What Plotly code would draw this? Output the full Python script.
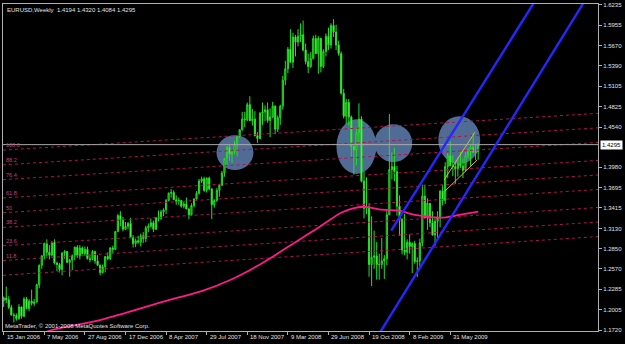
import pandas as pd
import plotly.graph_objects as go

# ---------------- data ----------------
week_start = "2006-01-15"

opens = [
    1.2130, 1.2165, 1.2140, 1.2035, 1.1930, 1.1920, 1.1880, 1.2040, 1.1910, 1.2150,
    1.2020, 1.2120, 1.2090, 1.2110, 1.2350, 1.2620, 1.2750, 1.2920, 1.2800, 1.2760,
    1.2940, 1.2650, 1.2630, 1.2560, 1.2790, 1.2810, 1.2660, 1.2690, 1.2750, 1.2870,
    1.2750, 1.2860, 1.2780, 1.2840, 1.2710, 1.2700, 1.2810, 1.2680, 1.2620, 1.2520,
    1.2600, 1.2740, 1.2710, 1.2860, 1.2840, 1.3090, 1.3310, 1.3250, 1.3120, 1.3160,
    1.3200, 1.3000, 1.2920, 1.2960, 1.2940, 1.3030, 1.2990, 1.3140, 1.3160, 1.3210,
    1.3120, 1.3280, 1.3270, 1.3360, 1.3390, 1.3520, 1.3620, 1.3630, 1.3530, 1.3510,
    1.3520, 1.3440, 1.3470, 1.3400, 1.3320, 1.3450, 1.3540, 1.3620, 1.3790, 1.3820,
    1.3660, 1.3830, 1.3680, 1.3460, 1.3520, 1.3660, 1.3730, 1.3900, 1.4100, 1.4260,
    1.4160, 1.4200, 1.4310, 1.4410, 1.4500, 1.4650, 1.4640, 1.4850, 1.4630, 1.4650,
    1.4420, 1.4380, 1.4730, 1.4750, 1.4780, 1.4630, 1.4680, 1.4830, 1.4510, 1.4670,
    1.4830, 1.5190, 1.5350, 1.5620, 1.5440, 1.5790, 1.5720, 1.5800, 1.5820, 1.5610,
    1.5450, 1.5380, 1.5490, 1.5770, 1.5560, 1.5770, 1.5380, 1.5590, 1.5800, 1.5680,
    1.5950, 1.5860, 1.5680, 1.5560, 1.5010, 1.4690, 1.4880, 1.4680, 1.4270, 1.4220,
    1.4460, 1.4650, 1.3790, 1.3410, 1.3420, 1.2630, 1.2730, 1.2750, 1.2630, 1.2630,
    1.2680, 1.2710, 1.3320, 1.3950, 1.3990, 1.3920, 1.3440, 1.3260, 1.2830, 1.2800,
    1.2940, 1.2880, 1.2920, 1.2670, 1.2680, 1.2930, 1.3580, 1.3280, 1.3480, 1.3210,
    1.3040, 1.3230, 1.3280, 1.3650, 1.3520, 1.3990, 1.4140, 1.4000, 1.3990, 1.3960,
    1.4030, 1.4000, 1.3940, 1.4140, 1.4200, 1.4260, 1.4190, 1.4194,
]
highs = [
    1.2185, 1.2323, 1.2190, 1.2070, 1.1960, 1.1950, 1.2080, 1.2045, 1.2180, 1.2180,
    1.2150, 1.2280, 1.2150, 1.2360, 1.2630, 1.2760, 1.2935, 1.2980, 1.2900, 1.2950,
    1.2980, 1.2670, 1.2650, 1.2800, 1.2830, 1.2815, 1.2710, 1.2770, 1.2880, 1.2900,
    1.2900, 1.2880, 1.2880, 1.2880, 1.2770, 1.2830, 1.2820, 1.2760, 1.2630, 1.2630,
    1.2750, 1.2800, 1.2870, 1.2890, 1.3090, 1.3330, 1.3370, 1.3290, 1.3220, 1.3220,
    1.3280, 1.3040, 1.2990, 1.3030, 1.3060, 1.3080, 1.3170, 1.3200, 1.3270, 1.3240,
    1.3290, 1.3380, 1.3390, 1.3410, 1.3540, 1.3630, 1.3680, 1.3660, 1.3590, 1.3560,
    1.3525, 1.3500, 1.3560, 1.3420, 1.3480, 1.3550, 1.3650, 1.3820, 1.3850, 1.3850,
    1.3840, 1.3850, 1.3690, 1.3540, 1.3690, 1.3750, 1.3930, 1.4110, 1.4280, 1.4290,
    1.4220, 1.4350, 1.4420, 1.4510, 1.4750, 1.4750, 1.4880, 1.4967, 1.4790, 1.4760,
    1.4470, 1.4750, 1.4880, 1.4840, 1.4880, 1.4800, 1.4890, 1.4840, 1.4700, 1.4850,
    1.5250, 1.5460, 1.5650, 1.5900, 1.5850, 1.5820, 1.5900, 1.5980, 1.6019, 1.5700,
    1.5560, 1.5580, 1.5810, 1.5820, 1.5800, 1.5780, 1.5620, 1.5840, 1.5920, 1.5980,
    1.6038, 1.5960, 1.5740, 1.5590, 1.5070, 1.4930, 1.4930, 1.4700, 1.4280, 1.4530,
    1.4870, 1.4690, 1.3920, 1.3840, 1.3480, 1.3300, 1.3100, 1.2940, 1.2780, 1.3000,
    1.2760, 1.3380, 1.4720, 1.4190, 1.4250, 1.4000, 1.3590, 1.3270, 1.3330, 1.2980,
    1.3050, 1.2940, 1.2960, 1.2730, 1.2990, 1.3740, 1.3740, 1.3550, 1.3480, 1.3370,
    1.3270, 1.3370, 1.3660, 1.3740, 1.4050, 1.4180, 1.4340, 1.4150, 1.4070, 1.4120,
    1.4200, 1.4100, 1.4190, 1.4250, 1.4290, 1.4450, 1.4300, 1.4320,
]
lows = [
    1.2040, 1.2095, 1.2010, 1.1920, 1.1825, 1.1850, 1.1860, 1.1880, 1.1900, 1.2010,
    1.1980, 1.2060, 1.2050, 1.2100, 1.2300, 1.2570, 1.2700, 1.2740, 1.2700, 1.2740,
    1.2630, 1.2540, 1.2520, 1.2480, 1.2710, 1.2650, 1.2460, 1.2550, 1.2690, 1.2720,
    1.2700, 1.2770, 1.2750, 1.2700, 1.2660, 1.2690, 1.2640, 1.2610, 1.2480, 1.2505,
    1.2520, 1.2690, 1.2690, 1.2790, 1.2830, 1.3080, 1.3160, 1.3090, 1.3110, 1.3120,
    1.3000, 1.2865, 1.2870, 1.2920, 1.2880, 1.2930, 1.2940, 1.3080, 1.3140, 1.3080,
    1.3110, 1.3230, 1.3250, 1.3300, 1.3330, 1.3510, 1.3560, 1.3530, 1.3460, 1.3460,
    1.3420, 1.3410, 1.3400, 1.3260, 1.3310, 1.3420, 1.3530, 1.3600, 1.3760, 1.3640,
    1.3630, 1.3660, 1.3260, 1.3420, 1.3500, 1.3570, 1.3720, 1.3850, 1.4020, 1.4070,
    1.4040, 1.4160, 1.4130, 1.4390, 1.4490, 1.4540, 1.4620, 1.4620, 1.4560, 1.4410,
    1.4320, 1.4370, 1.4570, 1.4620, 1.4600, 1.4400, 1.4660, 1.4440, 1.4470, 1.4570,
    1.4780, 1.5120, 1.5290, 1.5440, 1.5360, 1.5520, 1.5660, 1.5720, 1.5590, 1.5410,
    1.5290, 1.5360, 1.5480, 1.5570, 1.5280, 1.5300, 1.5360, 1.5520, 1.5610, 1.5630,
    1.5790, 1.5610, 1.5530, 1.4990, 1.4660, 1.4580, 1.4560, 1.4130, 1.3880, 1.4010,
    1.4310, 1.3770, 1.3270, 1.3330, 1.2460, 1.2330, 1.2570, 1.2420, 1.2420, 1.2570,
    1.2430, 1.2620, 1.3320, 1.3810, 1.3790, 1.3310, 1.3030, 1.2770, 1.2760, 1.2700,
    1.2780, 1.2510, 1.2640, 1.2457, 1.2600, 1.2880, 1.3280, 1.3110, 1.3150, 1.3030,
    1.2890, 1.2970, 1.3150, 1.3450, 1.3470, 1.3830, 1.4000, 1.3860, 1.3750, 1.3850,
    1.3970, 1.3830, 1.3920, 1.4100, 1.4000, 1.4180, 1.4080, 1.4084,
]
closes = [
    1.2165, 1.2140, 1.2035, 1.1930, 1.1920, 1.1880, 1.2040, 1.1910, 1.2150, 1.2020,
    1.2120, 1.2090, 1.2110, 1.2350, 1.2620, 1.2750, 1.2920, 1.2800, 1.2760, 1.2940,
    1.2650, 1.2630, 1.2560, 1.2790, 1.2810, 1.2660, 1.2690, 1.2750, 1.2870, 1.2750,
    1.2860, 1.2780, 1.2840, 1.2710, 1.2700, 1.2810, 1.2680, 1.2620, 1.2520, 1.2600,
    1.2740, 1.2710, 1.2860, 1.2840, 1.3090, 1.3310, 1.3250, 1.3120, 1.3160, 1.3200,
    1.3000, 1.2920, 1.2960, 1.2940, 1.3030, 1.2990, 1.3140, 1.3160, 1.3210, 1.3120,
    1.3280, 1.3270, 1.3360, 1.3390, 1.3520, 1.3620, 1.3630, 1.3530, 1.3510, 1.3520,
    1.3440, 1.3470, 1.3400, 1.3320, 1.3450, 1.3540, 1.3620, 1.3790, 1.3820, 1.3660,
    1.3830, 1.3680, 1.3460, 1.3520, 1.3660, 1.3730, 1.3900, 1.4100, 1.4260, 1.4160,
    1.4200, 1.4310, 1.4410, 1.4500, 1.4650, 1.4640, 1.4850, 1.4630, 1.4650, 1.4420,
    1.4380, 1.4730, 1.4750, 1.4780, 1.4630, 1.4680, 1.4830, 1.4510, 1.4670, 1.4830,
    1.5190, 1.5350, 1.5620, 1.5440, 1.5790, 1.5720, 1.5800, 1.5820, 1.5610, 1.5450,
    1.5380, 1.5490, 1.5770, 1.5560, 1.5770, 1.5380, 1.5590, 1.5800, 1.5680, 1.5950,
    1.5860, 1.5680, 1.5560, 1.5010, 1.4690, 1.4880, 1.4680, 1.4270, 1.4220, 1.4460,
    1.4650, 1.3790, 1.3410, 1.3420, 1.2630, 1.2730, 1.2750, 1.2630, 1.2630, 1.2680,
    1.2710, 1.3320, 1.3950, 1.3990, 1.3920, 1.3440, 1.3260, 1.2830, 1.2800, 1.2940,
    1.2880, 1.2920, 1.2670, 1.2680, 1.2930, 1.3580, 1.3280, 1.3480, 1.3210, 1.3040,
    1.3230, 1.3280, 1.3650, 1.3520, 1.3990, 1.4140, 1.4000, 1.3990, 1.3960, 1.4030,
    1.4000, 1.3940, 1.4140, 1.4200, 1.4260, 1.4190, 1.4190, 1.4295,
]
dates = pd.date_range(week_start, periods=len(closes), freq="7D")

# moving average
ma_dates = ["2006-04-02", "2006-05-28", "2006-10-08", "2007-04-15", "2007-07-15",
            "2007-09-30", "2007-12-23", "2008-04-06", "2008-06-01", "2008-08-03",
            "2008-08-31", "2008-10-05", "2008-10-26", "2008-11-23", "2009-01-11",
            "2009-02-08", "2009-03-08", "2009-05-03", "2009-06-28", "2009-08-16"]
ma_values = [1.1610, 1.1720, 1.1858, 1.2135, 1.2259, 1.2411, 1.2631, 1.2963, 1.3142,
             1.3349, 1.3404, 1.3432, 1.3418, 1.3391, 1.3377, 1.3336, 1.3308, 1.3280,
             1.3322, 1.3363]

# blue channel lines
chan_upper_dates = ["2008-12-19", "2010-01-18"]
chan_upper_prices = [1.3101, 1.6276]
chan_lower_dates = ["2008-10-29", "2010-06-04"]
chan_lower_prices = [1.1521, 1.6276]

# small yellow channel
ych_upper_dates = ["2009-05-14", "2009-08-07"]
ych_upper_prices = [1.3805, 1.4468]
ych_lower_dates = ["2009-05-17", "2009-08-13"]
ych_lower_prices = [1.3653, 1.4081]

# Fibonacci channel levels
fib_levels = [0, 11.8, 23.6, 38.2, 50, 61.8, 76.4, 88.2, 100]
fib_labels = ["", "11.8", "23.6", "38.2", "50", "61.8", "76.4", "88.2", "100.0"]
fib_dates = ["2006-01-13", "2010-07-12 14:00"]
fib_zero = [1.2480, 1.3018]
fib_hundred = [1.4219, 1.4730]

# highlighted zones (ellipses)
zone_x0 = ["2007-08-25", "2008-07-21", "2008-11-02 17:00", "2009-04-28"]
zone_x1 = ["2007-12-05", "2008-11-08", "2009-02-15", "2009-08-21 14:00"]
zone_y0 = [1.3943, 1.3888, 1.4053, 1.4026]
zone_y1 = [1.4426, 1.4647, 1.4578, 1.4689]

current_price = 1.4295
header = "EURUSD,Weekly  1.4194 1.4320 1.4084 1.4295"

price_ticks = [1.6235, 1.5955, 1.5670, 1.5390, 1.5105, 1.4825, 1.4540, 1.3980,
               1.3695, 1.3415, 1.3130, 1.2850, 1.2570, 1.2285, 1.2005, 1.1720]
date_ticks = ["2006-01-15", "2006-05-07", "2006-08-27", "2006-12-17", "2007-04-08",
              "2007-07-29", "2007-11-18", "2008-03-09", "2008-06-29", "2008-10-19",
              "2009-02-08", "2009-05-31"]
date_tick_text = ["15 Jan 2006", "7 May 2006", "27 Aug 2006", "17 Dec 2006",
                  "8 Apr 2007", "29 Jul 2007", "18 Nov 2007", "9 Mar 2008",
                  "29 Jun 2008", "19 Oct 2008", "8 Feb 2009", "31 May 2009"]

x_range = ["2006-01-13 01:00", "2010-07-12 14:00"]
y_range = [1.17062, 1.62488]

FONT = "Liberation Sans"
FIB_COLOR = "#b0124e"
FIB_TEXT = "#c8407a"

fig = go.Figure()

# fibonacci lines
for lvl in fib_levels:
    ys = [z + lvl / 100.0 * (h - z) for z, h in zip(fib_zero, fib_hundred)]
    fig.add_trace(go.Scatter(x=fib_dates, y=ys, mode="lines",
                             line=dict(color=FIB_COLOR, width=1, dash="3px,3px"),
                             hoverinfo="skip", showlegend=False))

# current price line
fig.add_trace(go.Scatter(x=fib_dates, y=[current_price, current_price], mode="lines",
                         line=dict(color="#a8a8a8", width=1),
                         hoverinfo="skip", showlegend=False))

# moving average
fig.add_trace(go.Scatter(x=ma_dates, y=ma_values, mode="lines",
                         line=dict(color="#ff1a8c", width=1.8, shape="spline"),
                         hoverinfo="skip", showlegend=False))

# candles
fig.add_trace(go.Candlestick(
    x=dates, open=opens, high=highs, low=lows, close=closes,
    increasing=dict(line=dict(color="#22e022", width=1), fillcolor="#0d6a0d"),
    decreasing=dict(line=dict(color="#22e022", width=1), fillcolor="#b8ffa8"),
    whiskerwidth=0, showlegend=False, hoverinfo="skip"))

# yellow small channel
for xs, ys in [(ych_upper_dates, ych_upper_prices), (ych_lower_dates, ych_lower_prices)]:
    fig.add_trace(go.Scatter(x=xs, y=ys, mode="lines",
                             line=dict(color="#c8c030", width=1),
                             hoverinfo="skip", showlegend=False))

# blue channel
for xs, ys in [(chan_upper_dates, chan_upper_prices), (chan_lower_dates, chan_lower_prices)]:
    fig.add_trace(go.Scatter(x=xs, y=ys, mode="lines",
                             line=dict(color="#2626ff", width=2.4),
                             hoverinfo="skip", showlegend=False))

# ellipses
shapes = []
for a, b, c, d in zip(zone_x0, zone_x1, zone_y0, zone_y1):
    shapes.append(dict(type="circle", xref="x", yref="y", x0=a, x1=b, y0=c, y1=d,
                       fillcolor="rgb(80,108,148)", line=dict(width=0), layer="below"))

annotations = []
# fib labels
for lvl, lab in zip(fib_levels, fib_labels):
    if not lab:
        continue
    y = fib_zero[0] + lvl / 100.0 * (fib_hundred[0] - fib_zero[0])
    annotations.append(dict(x=x_range[0], y=y, xref="x", yref="y", text=lab,
                            showarrow=False, xanchor="left", yanchor="bottom",
                            xshift=1, yshift=0,
                            font=dict(family=FONT, size=5.5, color=FIB_TEXT)))
# date labels
for d, t in zip(date_ticks, date_tick_text):
    annotations.append(dict(x=d, y=-0.019, xref="x", yref="paper", text=t,
                            showarrow=False, xanchor="left", yanchor="middle",
                            xshift=1,
                            font=dict(family=FONT, size=6, color="#e0e0e0")))
# header
annotations.append(dict(x=0.004, y=0.997, xref="paper", yref="paper", text=header,
                        showarrow=False, xanchor="left", yanchor="top",
                        font=dict(family=FONT, size=6, color="#e0e0e0")))
# copyright
annotations.append(dict(x=0.0, y=0.0, xref="paper", yref="paper",
                        text="MetaTrader, © 2001-2008 MetaQuotes Software Corp.",
                        showarrow=False, xanchor="left", yanchor="bottom",
                        font=dict(family=FONT, size=6, color="#e0e0e0")))
# current price box
annotations.append(dict(x=1.0, y=current_price, xref="paper", yref="y",
                        text="1.4295", showarrow=False, xanchor="left",
                        yanchor="middle", xshift=2, bgcolor="#ffffff",
                        borderpad=1,
                        font=dict(family=FONT, size=6, color="#000000")))

fig.update_layout(
    width=625, height=344,
    margin=dict(l=2, r=27, t=2, b=13),
    paper_bgcolor="#000000", plot_bgcolor="#000000",
    showlegend=False,
    shapes=shapes, annotations=annotations,
    boxgap=0.35,
    xaxis=dict(type="date", range=x_range, rangeslider=dict(visible=False),
               showgrid=False, zeroline=False, tickvals=date_ticks,
               showticklabels=False, ticks="outside", ticklen=3,
               tickcolor="#b0b0b0", showline=True, linecolor="#b0b0b0",
               linewidth=1, mirror=True),
    yaxis=dict(range=y_range, side="right", showgrid=False, zeroline=False,
               tickvals=price_ticks, tickformat=".4f", ticks="outside",
               ticklen=3, tickcolor="#b0b0b0", showline=True,
               linecolor="#b0b0b0", linewidth=1, mirror=True,
               tickfont=dict(family=FONT, size=6, color="#e0e0e0")),
)

fig.write_html("out.html")
